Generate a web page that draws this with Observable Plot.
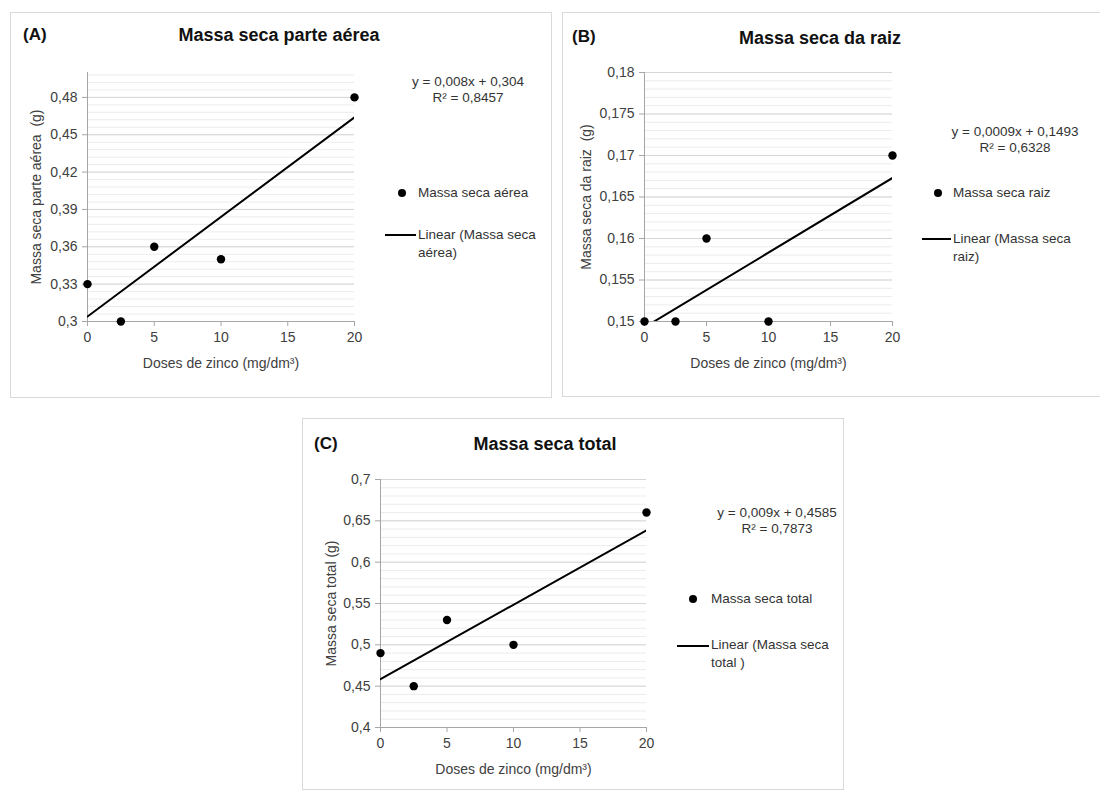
<!DOCTYPE html>
<html><head><meta charset="utf-8">
<script src="https://cdn.jsdelivr.net/npm/d3@7"></script>
<script src="https://cdn.jsdelivr.net/npm/@observablehq/plot@0.6"></script>
<style>
body{margin:0;background:#fff;font-family:"Liberation Sans",Arial,sans-serif;}
#root{position:relative;width:1100px;height:791px;overflow:hidden;background:#fff}
.panel{position:absolute;border:1px solid #d9d9d9;box-sizing:border-box;background:#fff}
.abs{position:absolute;white-space:nowrap}
.tag{font-weight:bold;font-size:17px;color:#111}
.title{font-weight:bold;font-size:18px;color:#111;transform:translateX(-50%)}
.eq{font-size:13.5px;color:#333;text-align:center;transform:translateX(-50%);line-height:16px}
.leg{font-size:13.5px;color:#333;line-height:18px}
.dot{position:absolute;width:8px;height:8px;border-radius:50%;background:#000}
.lline{position:absolute;height:2px;background:#000}
svg.chart{position:absolute;font-family:"Liberation Sans",Arial,sans-serif !important;font-size:14px !important;}
</style></head><body><div id="root"></div><script>
// ---- data ----
const doses = [0, 2.5, 5, 10, 20];
const massaAerea = [0.33, 0.30, 0.36, 0.35, 0.48];
const massaRaiz = [0.15, 0.15, 0.16, 0.15, 0.17];
const massaTotal = [0.49, 0.45, 0.53, 0.50, 0.66];
const xTicks = [0, 5, 10, 15, 20];
const yTicksA = [0.30, 0.33, 0.36, 0.39, 0.42, 0.45, 0.48];
const yTicksB = [0.15, 0.155, 0.16, 0.165, 0.17, 0.175, 0.18];
const yTicksC = [0.4, 0.45, 0.5, 0.55, 0.6, 0.65, 0.7];
const fitA = [0.008, 0.304];
const fitB = [0.0009, 0.1493];
const fitC = [0.009, 0.4585];
const eqA = ["y = 0,008x + 0,304", "R² = 0,8457"];
const eqB = ["y = 0,0009x + 0,1493", "R² = 0,6328"];
const eqC = ["y = 0,009x + 0,4585", "R² = 0,7873"];

const panels = [
  {tag:"(A)", title:"Massa seca parte aérea", ylabel:"Massa seca parte aérea  (g)", values:massaAerea, yTicks:yTicksA,
   yDomain:[0.3,0.5], minorStep:0.006, fit:fitA, eq:eqA, series:"Massa seca aérea", linName:["Linear (Massa seca","aérea)"],
   box:{l:10,t:12,w:542,h:386}, plot:{x0:87,x1:354,y0:72,y1:321}, ylo:56, titleX:279, titleY:25, tagX:23, tagY:25,
   eqX:468, eqY:74, dotX:398, dotY:189, legX:418, legY:184, lineX:385, lineY:234, linTextY:226},
  {tag:"(B)", title:"Massa seca da raiz", ylabel:"Massa seca da raiz  (g)", values:massaRaiz, yTicks:yTicksB,
   yDomain:[0.15,0.18], minorStep:0.001, fit:fitB, eq:eqB, series:"Massa seca raiz", linName:["Linear (Massa seca","raiz)"],
   box:{l:562,t:12,w:560,h:385}, plot:{x0:644,x1:892,y0:72,y1:321}, ylo:63, titleX:820, titleY:28, tagX:572, tagY:27,
   eqX:1015, eqY:124, dotX:934, dotY:189, legX:953, legY:184, lineX:922, lineY:238, linTextY:230},
  {tag:"(C)", title:"Massa seca total", ylabel:"Massa seca total (g)", values:massaTotal, yTicks:yTicksC,
   yDomain:[0.4,0.7], minorStep:0.01, fit:fitC, eq:eqC, series:"Massa seca total", linName:["Linear (Massa seca","total )"],
   box:{l:302,t:418,w:542,h:372}, plot:{x0:380,x1:646,y0:479,y1:727}, ylo:54, titleX:545, titleY:434, tagX:314, tagY:434,
   eqX:777, eqY:505, dotX:689, dotY:595, legX:711, legY:590, lineX:677, lineY:645, linTextY:636}
];

const fmt = d => String(+d.toFixed(4)).replace(".", ",");
const root = document.getElementById("root");

for (const p of panels) {
  const box = document.createElement("div");
  box.className = "panel";
  Object.assign(box.style, {left:p.box.l+"px", top:p.box.t+"px", width:p.box.w+"px", height:p.box.h+"px"});
  root.appendChild(box);

  const data = doses.map((x, i) => ({x, y: p.values[i]}));
  const fitLine = [0, 20].map(x => ({x, y: p.fit[0]*x + p.fit[1]}));
  const minor = d3.range(p.yDomain[0], p.yDomain[1] + 1e-9, p.minorStep);

  const svgL = p.box.l, svgT = p.box.t, W = 540, H = p.box.h - 2;
  const chart = Plot.plot({
    className: "chart",
    width: W, height: H,
    marginLeft: p.plot.x0 - svgL, marginRight: W - (p.plot.x1 - svgL),
    marginTop: p.plot.y0 - svgT, marginBottom: H - (p.plot.y1 - svgT),
    style: 'font-family:"Liberation Sans",Arial,sans-serif;font-size:14px;color:#404040;background:transparent;',
    x: {domain: [0, 20]},
    y: {domain: p.yDomain},
    marks: [
      Plot.ruleY(minor, {stroke: "#ececec", strokeWidth: 1}),
      Plot.ruleY(p.yTicks, {stroke: "#d6d6d6", strokeWidth: 1}),
      Plot.ruleX([0], {stroke: "#a6a6a6"}),
      Plot.ruleY([p.yDomain[0]], {stroke: "#a6a6a6"}),
      Plot.axisX({ticks: xTicks, tickSize: 5, tickPadding: 6, stroke: "#a6a6a6", label: "Doses de zinco (mg/dm³)",
        labelAnchor: "center", labelArrow: "none", labelOffset: 46, fontSize: 14}),
      Plot.axisY({ticks: p.yTicks, tickSize: 5, tickPadding: 5, stroke: "#a6a6a6", tickFormat: fmt, label: p.ylabel,
        labelAnchor: "center", labelArrow: "none", labelOffset: p.ylo, fontSize: 14}),
      Plot.line(fitLine, {x: "x", y: "y", stroke: "#000", strokeWidth: 2, clip: true}),
      Plot.dot(data, {x: "x", y: "y", r: 4.2, fill: "#000", stroke: "none"})
    ]
  });
  chart.classList.add("chart");
  chart.style.position = "absolute";
  chart.style.left = svgL + "px";
  chart.style.top = svgT + "px";
  root.appendChild(chart);

  const add = (cls, text, x, y) => {
    const d = document.createElement("div");
    d.className = "abs " + cls;
    d.innerHTML = text;
    d.style.left = x + "px"; d.style.top = y + "px";
    root.appendChild(d);
    return d;
  };
  add("tag", p.tag, p.tagX, p.tagY);
  add("title", p.title, p.titleX, p.titleY);
  add("eq", p.eq.join("<br>"), p.eqX, p.eqY);
  const dot = document.createElement("div");
  dot.className = "dot"; dot.style.left = p.dotX + "px"; dot.style.top = p.dotY + "px";
  root.appendChild(dot);
  add("leg", p.series, p.legX, p.legY);
  const ln = document.createElement("div");
  ln.className = "lline"; ln.style.left = p.lineX + "px"; ln.style.top = p.lineY + "px"; ln.style.width = (p.legX - p.lineX - 2) + "px";
  root.appendChild(ln);
  add("leg", p.linName.join("<br>"), p.legX, p.linTextY);
}
</script></body></html>
